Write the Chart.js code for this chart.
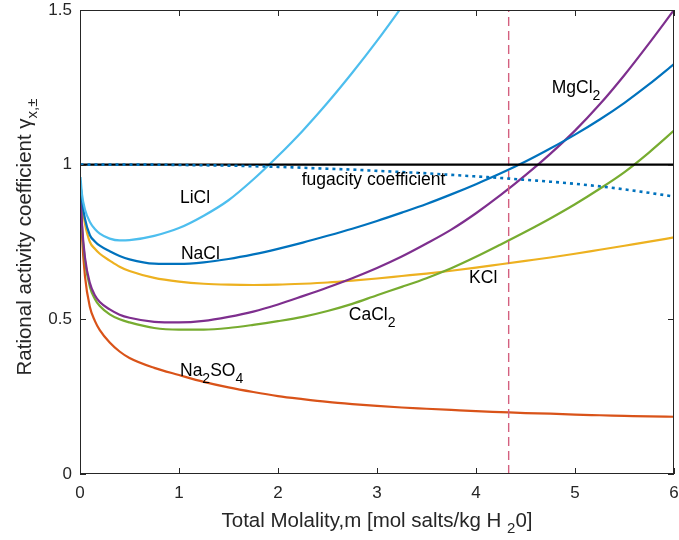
<!DOCTYPE html>
<html>
<head>
<meta charset="utf-8">
<script src="https://cdn.jsdelivr.net/npm/chart.js@4.4.1/dist/chart.umd.min.js"></script>
<style>
  html, body { margin: 0; padding: 0; background: #fff; }
  canvas { display: block; }
</style>
</head>
<body>
<canvas id="grafico" width="679" height="540"></canvas>
<script>
// valores
var molalidad = [0.005, 0.02, 0.05, 0.1, 0.15, 0.2, 0.3, 0.4, 0.5,
                 0.75, 1, 1.25, 1.5, 1.75, 2, 2.25, 2.5, 2.75, 3, 3.25, 3.5, 3.75, 4, 4.25, 4.5, 4.75, 5, 5.25, 5.5, 5.75, 6];
var liCl   = [0.96, 0.905, 0.855, 0.815, 0.792, 0.777, 0.761, 0.755, 0.756,
              0.77, 0.795, 0.835, 0.885, 0.952, 1.028, 1.11, 1.20, 1.297, 1.40, 1.51, 1.625, null, null, null, null, null, null, null, null, null, null];
var naCl   = [0.94, 0.885, 0.825, 0.772, 0.752, 0.738, 0.72, 0.705, 0.694,
              0.68, 0.679, 0.684, 0.695, 0.71, 0.728, 0.748, 0.77, 0.793, 0.818, 0.845, 0.873, 0.904, 0.937, 0.972, 1.01, 1.052, 1.097, 1.146, 1.20, 1.26, 1.325];
var kCl    = [0.94, 0.875, 0.81, 0.75, 0.728, 0.712, 0.69, 0.67, 0.656,
              0.634, 0.622, 0.615, 0.612, 0.611, 0.612, 0.615, 0.619, 0.625, 0.632, 0.64, 0.648, 0.657, 0.667, 0.678, 0.689, 0.70, 0.712, 0.725, 0.738, 0.751, 0.765];
var mgCl2  = [0.92, 0.81, 0.70, 0.617, 0.578, 0.556, 0.532, 0.515, 0.505,
              0.492, 0.49, 0.495, 0.508, 0.525, 0.548, 0.575, 0.603, 0.633, 0.666, 0.703, 0.745, 0.79, 0.843, 0.902, 0.966, 1.035, 1.11, 1.195, 1.29, 1.393, 1.50];
var caCl2  = [0.92, 0.80, 0.69, 0.605, 0.566, 0.543, 0.516, 0.50, 0.49,
              0.472, 0.467, 0.467, 0.472, 0.482, 0.494, 0.508, 0.527, 0.55, 0.578, 0.605, 0.633, 0.665, 0.702, 0.742, 0.783, 0.826, 0.872, 0.922, 0.976, 1.04, 1.11];
var na2SO4 = [0.90, 0.77, 0.64, 0.54, 0.495, 0.465, 0.425, 0.396, 0.375,
              0.343, 0.32, 0.298, 0.28, 0.265, 0.252, 0.242, 0.233, 0.226, 0.22, 0.215, 0.211, 0.207, 0.203, 0.20, 0.197, 0.195, 0.192, 0.19, 0.188, 0.186, 0.185];
var fugacidad = [1, 1, 1, 1, 1, 1, 1, 1, 1,
                 1, 0.999, 0.998, 0.997, 0.995, 0.993, 0.99, 0.987, 0.984, 0.98, 0.976, 0.972, 0.967, 0.962, 0.957, 0.951, 0.945, 0.938, 0.93, 0.92, 0.909, 0.897];

var gammaIdeal = 1;        // linea horizontal
var mSaturacion = 4.33;    // linea vertical discontinua
var rangoX = [0, 6];
var rangoY = [0, 1.5];
var ticksX = [0, 1, 2, 3, 4, 5, 6];
var ticksY = [0, 0.5, 1, 1.5];

var fuente = "'Liberation Sans', Arial, Helvetica, sans-serif";
var colorTexto = '#262626';

function puntos(ys) {
    return molalidad.map(function(x, i) { return { x: x, y: ys[i] }; });
}

// etiquetas sobre las curvas: [texto, subindice?]
var etiquetas = [
    { x: 1.01, y: 0.877, partes: [['LiCl', false]] },
    { x: 1.02, y: 0.695, partes: [['NaCl', false]] },
    { x: 2.24, y: 0.934, partes: [['fugacity coefficient', false]] },
    { x: 3.93, y: 0.619, partes: [['KCl', false]] },
    { x: 2.715, y: 0.498, partes: [['CaCl', false], ['2', true]] },
    { x: 1.01, y: 0.316, partes: [['Na', false], ['2', true], ['SO', false], ['4', true]] },
    { x: 4.765, y: 1.232, partes: [['MgCl', false], ['2', true]] }
];

function dibujarPartes(ctx, partes, x, y, tam, tamSub, bajada) {
    partes.forEach(function(p) {
        ctx.font = (p[1] ? tamSub : tam) + 'px ' + fuente;
        ctx.fillText(p[0], x, p[1] ? y + bajada : y);
        x += ctx.measureText(p[0]).width;
    });
}

function anchoPartes(ctx, partes, tam, tamSub) {
    var w = 0;
    partes.forEach(function(p) {
        ctx.font = (p[1] ? tamSub : tam) + 'px ' + fuente;
        w += ctx.measureText(p[0]).width;
    });
    return w;
}

var extras = {
    id: 'extras',
    afterDatasetsDraw: function(chart) {
        var ctx = chart.ctx;
        var a = chart.chartArea;
        var sx = chart.scales.x, sy = chart.scales.y;

        // etiquetas
        ctx.save();
        ctx.fillStyle = '#000';
        ctx.textBaseline = 'alphabetic';
        ctx.textAlign = 'left';
        etiquetas.forEach(function(e) {
            dibujarPartes(ctx, e.partes, sx.getPixelForValue(e.x), sy.getPixelForValue(e.y), 17.5, 14, 7);
        });
        ctx.restore();

        // caja y marcas
        ctx.save();
        ctx.strokeStyle = colorTexto;
        ctx.lineWidth = 1;
        ctx.strokeRect(a.left + 0.5, a.top + 0.5, a.right - a.left - 1, a.bottom - a.top - 1);
        ctx.beginPath();
        ticksX.forEach(function(v) {
            var px = Math.round(sx.getPixelForValue(v)) + 0.5;
            ctx.moveTo(px, a.bottom); ctx.lineTo(px, a.bottom - 6);
            ctx.moveTo(px, a.top); ctx.lineTo(px, a.top + 6);
        });
        ticksY.forEach(function(v) {
            var py = Math.round(sy.getPixelForValue(v)) + 0.5;
            ctx.moveTo(a.left, py); ctx.lineTo(a.left + 6, py);
            ctx.moveTo(a.right, py); ctx.lineTo(a.right - 6, py);
        });
        ctx.stroke();
        ctx.restore();

        // titulos de ejes
        ctx.save();
        ctx.fillStyle = colorTexto;
        ctx.textBaseline = 'alphabetic';
        ctx.textAlign = 'left';
        var tx = [['Total Molality,m [mol salts/kg H ', false], ['2', true], ['0]', false]];
        var w = anchoPartes(ctx, tx, 20.5, 15);
        dibujarPartes(ctx, tx, (a.left + a.right) / 2 - w / 2, 527, 20.5, 15, 6);

        var ty = [['Rational activity coefficient \u03b3', false], ['x,\u00b1', true]];
        ctx.translate(31, 237);
        ctx.rotate(-Math.PI / 2);
        var wy = anchoPartes(ctx, ty, 20.5, 15);
        dibujarPartes(ctx, ty, -wy / 2, 0, 20.5, 15, 6);
        ctx.restore();
    }
};

function serie(datos, color, extra) {
    var d = {
        data: puntos(datos),
        borderColor: color,
        borderWidth: 2.2,
        pointRadius: 0,
        fill: false,
        cubicInterpolationMode: 'monotone',
        spanGaps: false
    };
    for (var k in extra) d[k] = extra[k];
    return d;
}

var ctx = document.getElementById('grafico').getContext('2d');
var grafico = new Chart(ctx, {
    type: 'line',
    data: {
        datasets: [
            serie(fugacidad, '#0072BD', { borderDash: [3, 4], borderWidth: 2.6, order: 0 }),
            serie(liCl, '#4DBEEE', { order: 2 }),
            serie(naCl, '#0072BD', { order: 2 }),
            serie(kCl, '#EDB120', { order: 3 }),
            serie(mgCl2, '#7E2F8E', { order: 2 }),
            serie(caCl2, '#77AC30', { order: 2 }),
            serie(na2SO4, '#D95319', { order: 2 }),
            {
                data: [{ x: rangoX[0], y: gammaIdeal }, { x: rangoX[1], y: gammaIdeal }],
                borderColor: '#000', borderWidth: 2.2, pointRadius: 0, order: 1
            },
            {
                data: [{ x: mSaturacion, y: rangoY[0] }, { x: mSaturacion, y: rangoY[1] }],
                borderColor: '#d4607f', borderWidth: 1.4, borderDash: [9, 5], pointRadius: 0, order: 1
            }
        ]
    },
    options: {
        responsive: false,
        animation: false,
        devicePixelRatio: 1,
        layout: { padding: { left: 0, right: 5, top: 10, bottom: 0 } },
        plugins: { legend: { display: false }, tooltip: { enabled: false } },
        scales: {
            x: {
                type: 'linear',
                min: rangoX[0], max: rangoX[1],
                afterBuildTicks: function(s) { s.ticks = ticksX.map(function(v) { return { value: v }; }); },
                ticks: { font: { size: 17, family: fuente }, color: colorTexto, padding: 9, maxRotation: 0,
                         callback: function(v) { return String(v); } },
                grid: { display: false, drawTicks: false },
                border: { display: false },
                afterFit: function(s) { s.height = 66; s.paddingLeft = 0; s.paddingRight = 0; }
            },
            y: {
                min: rangoY[0], max: rangoY[1],
                afterBuildTicks: function(s) { s.ticks = ticksY.map(function(v) { return { value: v }; }); },
                ticks: { font: { size: 17, family: fuente }, color: colorTexto, padding: 8,
                         callback: function(v) { return String(v); } },
                grid: { display: false, drawTicks: false },
                border: { display: false },
                afterFit: function(s) { s.width = 80; s.paddingTop = 0; s.paddingBottom = 0; }
            }
        }
    },
    plugins: [extras]
});
</script>
</body>
</html>
